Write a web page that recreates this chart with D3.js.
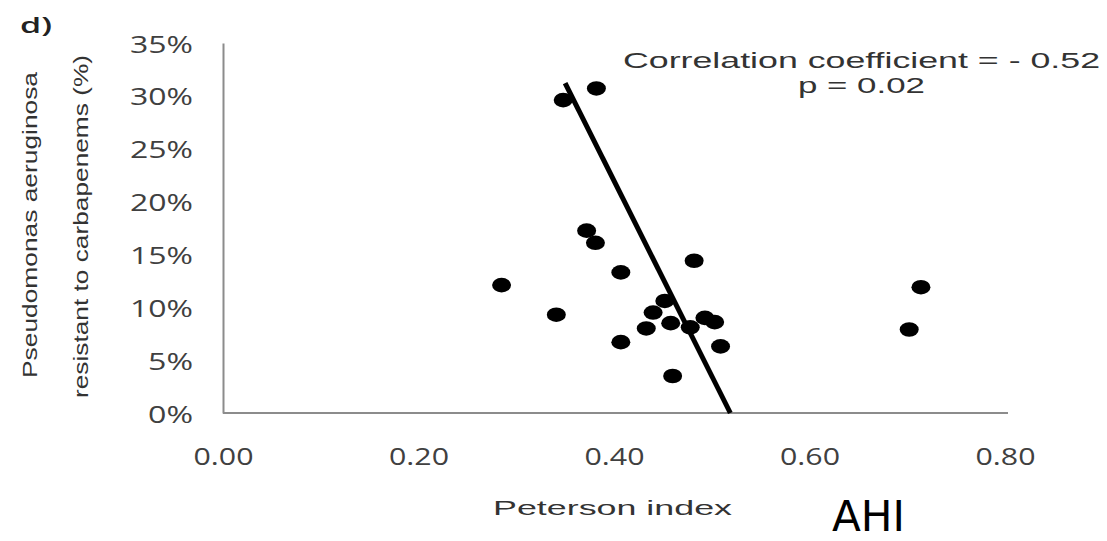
<!DOCTYPE html>
<html>
<head>
<meta charset="utf-8">
<script src="https://cdn.jsdelivr.net/npm/d3@7"></script>
<style>
  html, body { margin: 0; padding: 0; background: #fff; }
  svg { display: block; }
</style>
</head>
<body>
<svg id="chart" width="1107" height="541"></svg>
<script>
// ---- data ----
const petersonIndex = [0.285, 0.341, 0.348, 0.382, 0.372, 0.381, 0.407, 0.407, 0.433, 0.440,
                       0.452, 0.458, 0.460, 0.478, 0.482, 0.493, 0.503, 0.509, 0.702, 0.714];
const resistance    = [0.121, 0.093, 0.296, 0.307, 0.1725, 0.161, 0.133, 0.067, 0.080, 0.095,
                       0.106, 0.085, 0.035, 0.081, 0.144, 0.090, 0.086, 0.063, 0.079, 0.119];
const fitX = [0.350, 0.519];
const fitY = [0.312, 0.000];
const xTicks = [0, 0.2, 0.4, 0.6, 0.8];
const yTicks = [0, 0.05, 0.10, 0.15, 0.20, 0.25, 0.30, 0.35];
const corrLabel = "Correlation coefficient = - 0.52";
const pLabel = "p = 0.02";
const xTitle = "Peterson index";
const yTitle = ["Pseudomonas aeruginosa", "resistant to carbapenems (%)"];
const panelLabel = "d)";
const footLabel = "AHI";

// ---- drawing ----
const svg = d3.select("#chart");
const x = d3.scaleLinear().domain([0, 0.8]).range([223, 1005]);
const y = d3.scaleLinear().domain([0, 0.35]).range([413, 43]);

function fitWidth(sel, w) {
  sel.attr("textLength", w).attr("lengthAdjust", "spacingAndGlyphs");
}

// x axis
const gx = svg.append("g").attr("transform", `translate(0,${y(0)})`)
  .call(d3.axisBottom(x).tickValues(xTicks).tickSize(0).tickFormat(d3.format(".2f")));
gx.select(".domain").attr("stroke", "#8c8c8c").attr("stroke-width", 2).attr("d", `M${x(0)},0H1008`);
gx.selectAll(".tick text")
  .attr("y", 52).attr("dy", 0)
  .attr("font-family", "'Open Sans', 'Liberation Sans', sans-serif")
  .attr("font-size", 23).attr("fill", "#404040")
  .each(function() { fitWidth(d3.select(this), 60); });

// y axis
const gy = svg.append("g").attr("transform", `translate(${x(0)},0)`)
  .call(d3.axisLeft(y).tickValues(yTicks).tickSize(0).tickFormat(d3.format(".0%")));
gy.select(".domain").attr("stroke", "#8c8c8c").attr("stroke-width", 2);
gy.selectAll(".tick text")
  .attr("x", -30).attr("dy", 9)
  .attr("font-family", "'Open Sans', 'Liberation Sans', sans-serif")
  .attr("font-size", 23).attr("fill", "#404040")
  .each(function(d) { fitWidth(d3.select(this), d < 0.1 ? 45 : 63); });

// points
svg.append("g").selectAll("ellipse")
  .data(petersonIndex.map((p, i) => [p, resistance[i]]))
  .join("ellipse")
  .attr("cx", d => x(d[0])).attr("cy", d => y(d[1]))
  .attr("rx", 9.5).attr("ry", 7.3)
  .attr("fill", "#000");

// regression line
svg.append("line")
  .attr("x1", x(fitX[0])).attr("y1", y(fitY[0]))
  .attr("x2", x(fitX[1])).attr("y2", y(fitY[1]))
  .attr("stroke", "#000").attr("stroke-width", 5);

// annotation
const ann = svg.append("g")
  .attr("font-family", "'Liberation Sans', Arial, sans-serif")
  .attr("fill", "#333").attr("font-size", 22);
ann.append("text").attr("x", 623).attr("y", 68).text(corrLabel).call(fitWidth, 477);
ann.append("text").attr("x", 798).attr("y", 93).text(pLabel).call(fitWidth, 127);

// x title
svg.append("text").attr("x", 493).attr("y", 515)
  .attr("font-family", "'Liberation Sans', Arial, sans-serif")
  .attr("font-size", 20).attr("fill", "#333")
  .text(xTitle).call(fitWidth, 239);

// y title (two lines)
const ytl = [{t: yTitle[0], bx: 37, y0: 378, len: 306}, {t: yTitle[1], bx: 88, y0: 398, len: 343}];
ytl.forEach(l => {
  svg.append("text")
    .attr("transform", `translate(${l.bx},${l.y0}) rotate(-90)`)
    .attr("font-family", "'Liberation Sans', Arial, sans-serif")
    .attr("font-size", 21).attr("fill", "#333")
    .text(l.t).call(fitWidth, l.len);
});

// panel label
svg.append("text").attr("x", 20).attr("y", 33)
  .attr("font-family", "'Open Sans', 'Liberation Sans', sans-serif")
  .attr("font-size", 21).attr("font-weight", 600).attr("fill", "#222")
  .text(panelLabel).call(fitWidth, 32);

// footer label
svg.append("text").attr("x", 832).attr("y", 531)
  .attr("font-family", "'DejaVu Sans', sans-serif")
  .attr("font-size", 42).attr("fill", "#000")
  .text(footLabel).call(fitWidth, 73);
</script>
</body>
</html>
